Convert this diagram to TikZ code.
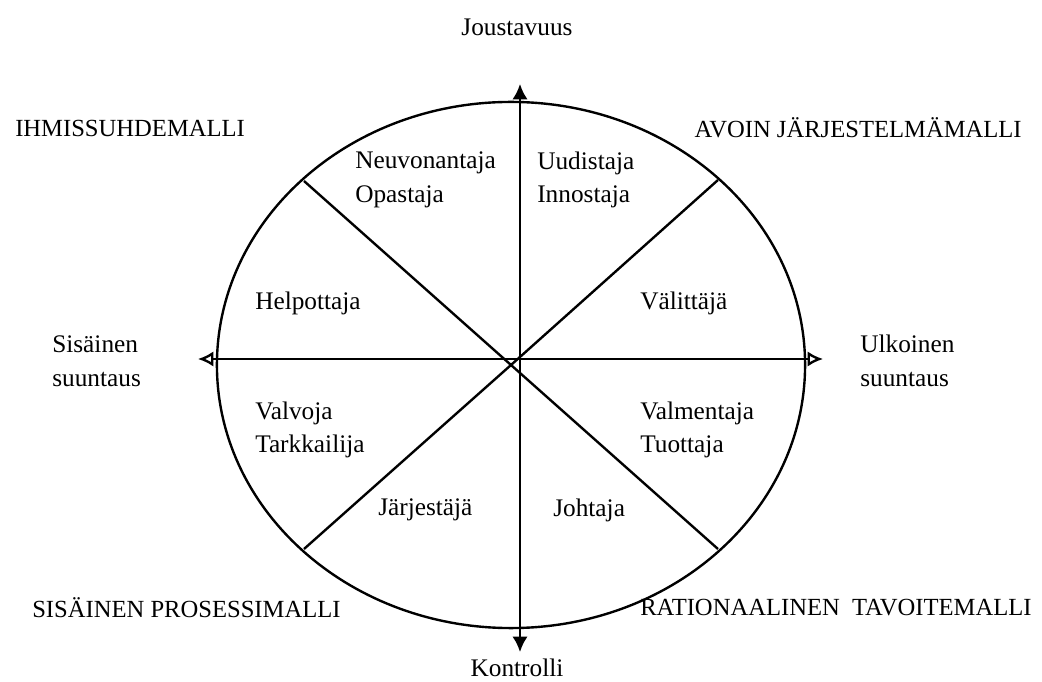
\documentclass[tikz,border=0pt]{standalone}
\usepackage{fontspec}
\setmainfont{Liberation Serif}
\usetikzlibrary{arrows.meta}

\begin{document}
\begin{tikzpicture}[
    x=0.025cm, y=-0.025cm,
    axis/.style={line width=1.7pt},
    txt/.style={font=\fontsize{18pt}{24pt}\selectfont, inner sep=0pt},
    caps/.style={font=\fontsize{17.5pt}{24pt}\selectfont, inner sep=0pt},
    role/.style={txt, anchor=west, align=left}
]
\useasboundingbox (0,0) rectangle (1042,682);

% Oval and its sectors
\coordinate (c) at (511,365);
\draw[axis] (c) ellipse [x radius=7.35cm, y radius=6.575cm];

\coordinate (tl) at (304,181);
\coordinate (tr) at (718,180);
\coordinate (bl) at (304,549);
\coordinate (br) at (718,549);
\draw[axis] (tl) -- (c) -- (br);
\draw[axis] (bl) -- (c) -- (tr);

% Axes
\coordinate (top) at (520,84);
\coordinate (bottom) at (520,652);
\coordinate (left) at (198,359);
\coordinate (right) at (823,359);
\draw[axis, {Latex[length=11pt,width=11pt]}-{Latex[length=11pt,width=11pt]}] (bottom) -- (top);
\draw[axis, {Latex[open,length=11pt,width=11pt]}-{Latex[open,length=11pt,width=11pt]}] (left) -- (right);

% Axis labels
\node[txt] (joust) at (517,27) {Joustavuus};
\node[txt] (kontr) at (517,668) {Kontrolli};
\node[role] (sis) at (52,361) {Sisäinen\\suuntaus};
\node[role] (ulk) at (860,361) {Ulkoinen\\suuntaus};

% Model names
\node[caps, anchor=west] (ihm) at (15,128) {IHMISSUHDEMALLI};
\node[caps, anchor=east] (avoin) at (1022,128) {AVOIN JÄRJESTELMÄMALLI};
\node[caps, anchor=west] (sisproc) at (32,608) {SISÄINEN PROSESSIMALLI};
\node[caps, anchor=west] (rat) at (640,608) {RATIONAALINEN\ \ TAVOITEMALLI};

% Roles
\node[role] (neuv) at (355,180) {Neuvonantaja\\Opastaja};
\node[role] (uud) at (537,180) {Uudistaja\\Innostaja};
\node[role] (help) at (255,303) {Helpottaja};
\node[role] (valit) at (640,303) {Välittäjä};
\node[role] (valv) at (255,430) {Valvoja\\Tarkkailija};
\node[role] (valm) at (640,430) {Valmentaja\\Tuottaja};
\node[role] (jarj) at (378,510) {Järjestäjä};
\node[role] (joht) at (553,510) {Johtaja};

\end{tikzpicture}
\end{document}
